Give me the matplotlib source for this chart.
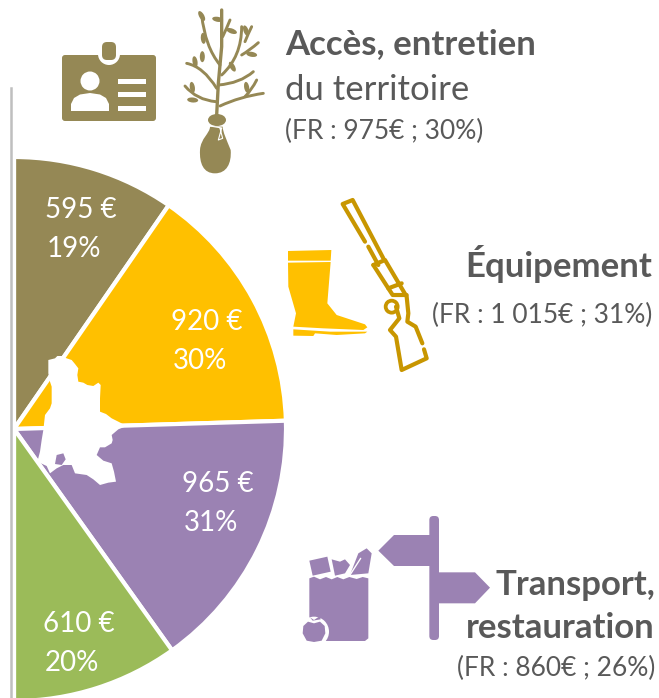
import matplotlib
matplotlib.use("Agg")
import matplotlib.pyplot as plt
from matplotlib.patches import Polygon, Circle, FancyBboxPatch, Ellipse, PathPatch
from matplotlib.path import Path

plt.rcParams['font.family'] = ['Lato', 'DejaVu Sans']

# the pie is a half pie, the left half is hidden
amounts = [595, 920, 965, 610]
shares = [19, 30, 31, 20]
colors = ['#958855', '#FFC000', '#9B82B3', '#9BBB59']
amount_pos = [(81, 210), (207, 322), (218, 484), (79, 624)]
share_pos = [(74, 249), (200, 361), (211, 523), (72, 663)]

BROWN = '#958855'
GOLD = '#C89600'
YELLOW = '#FFC000'
PURPLE = '#9B82B3'
GREY = '#595959'

W, H = 659, 698
fig = plt.figure(figsize=(W / 100, H / 100), dpi=100)
ax = fig.add_axes([0, 0, 1, 1])

# y axis is flipped so everything is in picture pixels
ax.pie(amounts + [sum(amounts)], colors=colors + ['none'], center=(14, 429), radius=272,
       startangle=-90, counterclock=True, wedgeprops={'edgecolor': 'white', 'linewidth': 3})
ax.set_xlim(0, W)
ax.set_ylim(H, 0)
ax.set_aspect('equal')
ax.axis('off')

# cover the hidden half and put the grey rule on it
ax.add_patch(Polygon([(0, 0), (14, 0), (14, H), (0, H)], fc='white', ec='none', zorder=2))
ax.plot([10.5, 10.5], [88, H], color='#BFBFBF', lw=1.8, zorder=3)

for a, s, p1, p2 in zip(amounts, shares, amount_pos, share_pos):
    ax.text(p1[0], p1[1], f'{a} €', color='white', fontsize=20, ha='center', va='center', zorder=6)
    ax.text(p2[0], p2[1], f'{s}%', color='white', fontsize=20, ha='center', va='center', zorder=6)


def shape(points, color, ox=0, oy=0, zoom=1, z=5):
    pts = [(ox + x / zoom, oy + y / zoom) for x, y in points]
    ax.add_patch(Polygon(pts, closed=True, fc=color, ec='none', zorder=z))


def path(points, color, lw, ox=0, oy=0, zoom=1, z=5):
    xs = [ox + p[0] / zoom for p in points]
    ys = [oy + p[1] / zoom for p in points]
    ax.plot(xs, ys, color=color, lw=lw, zorder=z, solid_capstyle='round', solid_joinstyle='round')


def curve(a, c, b, color, lw, zoom=3, z=5):
    # quadratic branch, a and b are the ends, c pulls the bend
    pts = [(p[0] / zoom, p[1] / zoom) for p in (a, c, b)]
    ax.add_patch(PathPatch(Path(pts, [Path.MOVETO, Path.CURVE3, Path.CURVE3]), fc='none', ec=color, lw=lw,
                           capstyle='round', zorder=z))


# department outline
dept = [(145, 60), (165, 55), (172, 48), (185, 48), (200, 55), (215, 60), (225, 72), (235, 85), (232, 105), (235, 125),
        (250, 128), (262, 135), (280, 138), (295, 128), (302, 135), (300, 175), (300, 215), (318, 222), (335, 235),
        (355, 245), (380, 258), (355, 268), (335, 285), (338, 300), (335, 310), (315, 322), (300, 322), (290, 345),
        (310, 362), (335, 370), (342, 395), (348, 425), (325, 428), (300, 435), (280, 418), (260, 405), (225, 400),
        (215, 375), (190, 375), (170, 385), (150, 400), (140, 378), (112, 365), (120, 335), (125, 300), (130, 270),
        (135, 225), (150, 205), (155, 190), (155, 140), (150, 125), (145, 100)]
shape(dept, 'white', 0, 340, 3)
shape([(170, 345), (190, 340), (197, 358), (185, 375), (165, 372)], PURPLE, 0, 340, 3, z=6)

# badge
ax.add_patch(FancyBboxPatch((64, 57), 90, 62, boxstyle='round,pad=2,rounding_size=3', fc=BROWN, ec='none', zorder=5))
ax.add_patch(Circle((109, 54), 11, fc='white', ec='none', zorder=5))
ax.add_patch(FancyBboxPatch((104, 44), 10, 14, boxstyle='round,pad=2,rounding_size=5', fc=BROWN, ec='none', zorder=6))
ax.add_patch(Circle((90, 81), 9.5, fc='white', ec='none', zorder=6))
shape([(71, 111), (71, 104), (74, 98), (80, 94.5), (90, 93), (100, 94.5), (106, 98), (109, 104), (109, 111)], 'white', z=6)
for y in (79, 92, 106):
    shape([(118, y), (146, y), (146, y + 5), (118, y + 5)], 'white', z=6)

branches = [((660, 195), (615, 140), (605, 45)),
            ((650, 265), (610, 200), (560, 190)),
            ((655, 255), (720, 250), (760, 215)),
            ((660, 318), (720, 290), (790, 280)),
            ((648, 305), (590, 300), (555, 258)),
            ((665, 225), (725, 170), (725, 80)),
            ((725, 165), (750, 150), (775, 128)),
            ((735, 125), (745, 100), (755, 80)),
            ((668, 110), (680, 85), (690, 60)),
            ((735, 290), (755, 270), (770, 240))]
path([(650, 345), (655, 250), (665, 140), (665, 30)], BROWN, 2.4, 0, 0, 3)
for a, c, b in branches:
    curve(a, c, b, BROWN, 2.1)
leaves = [(605, 48, 60), (653, 58, 10), (695, 93, 20), (610, 115, 85), (738, 92, 70), (755, 163, 10),
          (585, 185, 80), (607, 170, 90), (697, 200, 60), (577, 262, 80), (740, 262, 80), (578, 300, 5)]
for x, y, ang in leaves:
    ax.add_patch(Ellipse((x / 3, y / 3), 11, 5, angle=ang, fc=BROWN, ec='none', zorder=5))
bag_pts = [(630, 380), (668, 380), (668, 395), (680, 420), (692, 450), (695, 490), (680, 520), (645, 520),
           (610, 520), (598, 490), (600, 450), (602, 415), (630, 400), (630, 380)]
bag_codes = [Path.MOVETO, Path.LINETO] + [Path.CURVE4] * 12
ax.add_patch(PathPatch(Path([(x / 3, y / 3) for x, y in bag_pts], bag_codes), fc=BROWN, ec='none', zorder=5))
ax.add_patch(Ellipse((651 / 3, 360 / 3), 18, 12, fc=BROWN, ec='none', zorder=5))
path([(630, 378), (665, 384), (655, 420), (668, 415), (660, 385)], 'white', 0.8, 0, 0, 3, z=6)

# boot
shape([(54, 183), (184, 180), (182, 212), (54, 212)], YELLOW, 270, 190, 3)
shape([(54, 218), (182, 216), (172, 340), (200, 375), (285, 403), (292, 412), (280, 420), (160, 415), (70, 410),
       (78, 370), (55, 290)], YELLOW, 270, 190, 3)
shape([(70, 418), (180, 425), (292, 425), (285, 430), (200, 435), (135, 430), (130, 438), (70, 437)], YELLOW, 270, 190, 3)

# rifle
rifle = [[(285, 155), (218, 42), (248, 30), (340, 205)],
         [(295, 170), (325, 225)],
         [(310, 225), (345, 210), (410, 320), (415, 370), (412, 395), (437, 410), (457, 460)],
         [(310, 225), (355, 295), (395, 280)],
         [(355, 295), (368, 315), (410, 315)],
         [(378, 350), (388, 385), (360, 420), (378, 440), (395, 540), (470, 505), (462, 478)]]
for r in rifle:
    path(r, GOLD, 3.0, 270, 190, 3)
ax.add_patch(Circle((270 + 365 / 3, 190 + 350 / 3), 6, fc='none', ec=GOLD, lw=2.7, zorder=5))

# signpost
ax.add_patch(FancyBboxPatch((290 + 424 / 3, 510 + 24 / 3), 17 / 3, 360 / 3, boxstyle='round,pad=2,rounding_size=4',
                            fc=PURPLE, ec='none', zorder=5))
shape([(447, 75), (312, 75), (265, 122), (312, 168), (447, 168)], PURPLE, 290, 510, 3)
shape([(447, 187), (555, 187), (600, 233), (555, 280), (447, 280)], PURPLE, 290, 510, 3)

# shopping bag
shape([(58, 205), (72, 200), (90, 208), (108, 201), (125, 208), (142, 201), (160, 208), (178, 201), (200, 207),
       (218, 201), (235, 205), (235, 385), (225, 393), (65, 393), (58, 385)], PURPLE, 290, 510, 3)
shape([(58, 152), (112, 140), (122, 185), (68, 197)], PURPLE, 290, 510, 3)
shape([(125, 148), (150, 155), (165, 148), (180, 165), (165, 190), (135, 197)], PURPLE, 290, 510, 3)
shape([(180, 195), (205, 130), (230, 115), (245, 130), (235, 190)], PURPLE, 290, 510, 3)
path([(178, 198), (212, 145)], 'white', 1.0, 290, 510, 3, z=6)
ax.add_patch(Circle((290 + 72 / 3, 510 + 365 / 3), 15, fc='white', ec='none', zorder=6))
shape([(72, 340), (90, 335), (104, 348), (106, 370), (95, 392), (72, 396), (50, 392), (38, 370), (40, 348), (54, 335)],
      PURPLE, 290, 510, 3, z=7)
shape([(68, 332), (60, 322), (72, 330), (90, 318), (92, 328)], PURPLE, 290, 510, 3, z=7)

# texts
ax.text(285, 44, 'Accès, entretien', color=GREY, fontsize=25, fontweight='bold', ha='left', va='center', zorder=6)
ax.text(285, 90, 'du territoire', color=GREY, fontsize=25, ha='left', va='center', zorder=6)
ax.text(285, 131, '(FR : 975€ ; 30%)', color=GREY, fontsize=19, ha='left', va='center', zorder=6)
ax.text(652, 264, 'Équipement', color=GREY, fontsize=25, fontweight='bold', ha='right', va='center', zorder=6)
ax.text(652, 315, '(FR : 1 015€ ; 31%)', color=GREY, fontsize=19, ha='right', va='center', zorder=6)
ax.text(655, 585, 'Transport,', color=GREY, fontsize=25, fontweight='bold', ha='right', va='center', zorder=6)
ax.text(655, 628, 'restauration', color=GREY, fontsize=25, fontweight='bold', ha='right', va='center', zorder=6)
ax.text(655, 668, '(FR : 860€ ; 26%)', color=GREY, fontsize=19, ha='right', va='center', zorder=6)

fig.savefig('out.png', dpi=100)
